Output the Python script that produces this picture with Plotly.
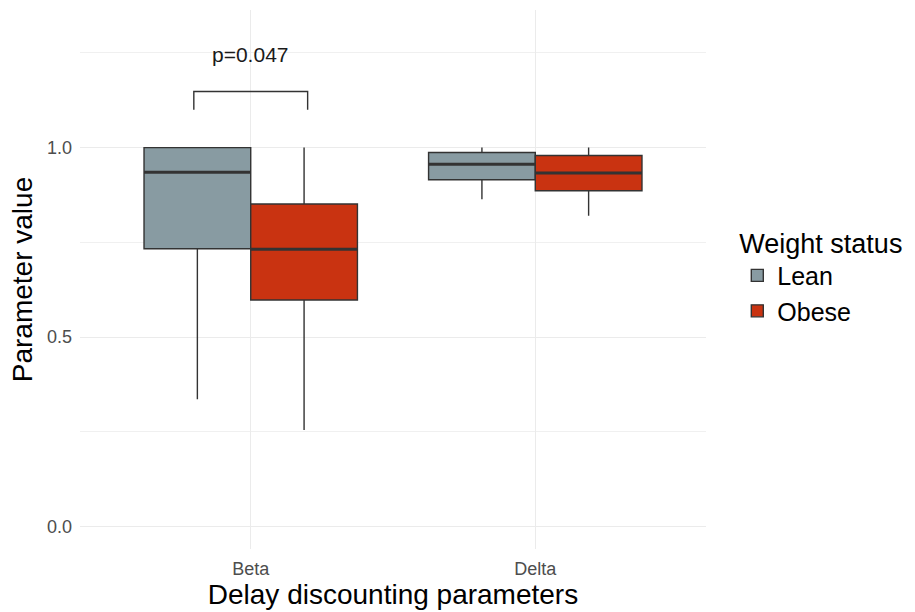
import plotly.graph_objects as go

# Delay discounting parameters by weight status (boxplot summary statistics)
categories = ["Beta", "Delta"]
groups = ["Lean", "Obese"]

lean_q1 = [0.733, 0.915]
lean_median = [0.935, 0.956]
lean_q3 = [1.0, 0.987]
lean_low = [0.336, 0.864]
lean_high = [1.0, 1.0]

obese_q1 = [0.598, 0.886]
obese_median = [0.732, 0.933]
obese_q3 = [0.851, 0.979]
obese_low = [0.255, 0.820]
obese_high = [1.0, 1.0]

colors = {"Lean": "#889BA2", "Obese": "#C93311"}
stats = {
    "Lean": (lean_q1, lean_median, lean_q3, lean_low, lean_high),
    "Obese": (obese_q1, obese_median, obese_q3, obese_low, obese_high),
}

# significance bracket between the two Beta boxes
p_label = "p=0.047"
bracket_y = 1.148
bracket_tip = 1.10
label_y = 1.245

FONT = "Liberation Sans, Arial, sans-serif"
x_pos = list(range(len(categories)))
dodge = 0.75
box_w = dodge / len(groups)

fig = go.Figure()
for gi, g in enumerate(groups):
    q1, med, q3, lo, hi = stats[g]
    fig.add_trace(go.Box(
        x=x_pos, q1=q1, median=med, q3=q3, lowerfence=lo, upperfence=hi,
        name=g, fillcolor=colors[g], line=dict(color="#333333", width=1.4),
        whiskerwidth=0, boxpoints=False, hoverinfo="skip",
    ))
    # thicker median bars
    off = -dodge / 2 + box_w * (gi + 0.5)
    for xi, m in zip(x_pos, med):
        fig.add_trace(go.Scatter(
            x=[xi + off - box_w / 2, xi + off + box_w / 2], y=[m, m],
            mode="lines", line=dict(color="#333333", width=3),
            showlegend=False, hoverinfo="skip",
        ))

bx0, bx1 = -0.2, 0.2
fig.add_trace(go.Scatter(
    x=[bx0, bx0, bx1, bx1], y=[bracket_tip, bracket_y, bracket_y, bracket_tip],
    mode="lines", line=dict(color="#333333", width=1.4),
    showlegend=False, hoverinfo="skip",
))
fig.add_annotation(x=0, y=label_y, text=p_label, showarrow=False,
                   font=dict(family=FONT, size=21, color="#1a1a1a"))

fig.update_layout(
    width=915, height=612,
    margin=dict(l=80, r=207, t=10, b=63),
    plot_bgcolor="white", paper_bgcolor="white",
    boxmode="group", boxgap=0.25, boxgroupgap=0,
    font=dict(family=FONT),
    legend=dict(
        title=dict(text="Weight status", font=dict(size=27, color="#000")),
        font=dict(size=25, color="#000"),
        x=1.05, xanchor="left", y=0.615, yanchor="top",
        tracegroupgap=0, itemclick=False,
    ),
)
fig.update_xaxes(
    range=[-0.6, 1.6], tickvals=x_pos, ticktext=categories,
    showgrid=True, gridcolor="#EBEBEB", gridwidth=1.2, zeroline=False,
    showline=False, ticks="", tickfont=dict(size=18, color="#4D4D4D"),
    automargin=False, ticklabelstandoff=7,
    title=dict(text="Delay discounting parameters", font=dict(size=28, color="#000"), standoff=0),
)
fig.update_yaxes(
    range=[-0.059, 1.363], tickvals=[0, 0.5, 1.0], ticktext=["0.0", "0.5", "1.0"],
    showgrid=True, gridcolor="#EBEBEB", gridwidth=1.2, zeroline=False,
    showline=False, ticks="", tickfont=dict(size=18, color="#4D4D4D"),
    automargin=False, ticklabelstandoff=7,
    minor=dict(tickvals=[0.25, 0.75, 1.25], showgrid=True, gridcolor="#F0F0F0", gridwidth=1),
    title=dict(text="Parameter value", font=dict(size=28, color="#000"), standoff=6),
)

fig.write_html("out.html")
